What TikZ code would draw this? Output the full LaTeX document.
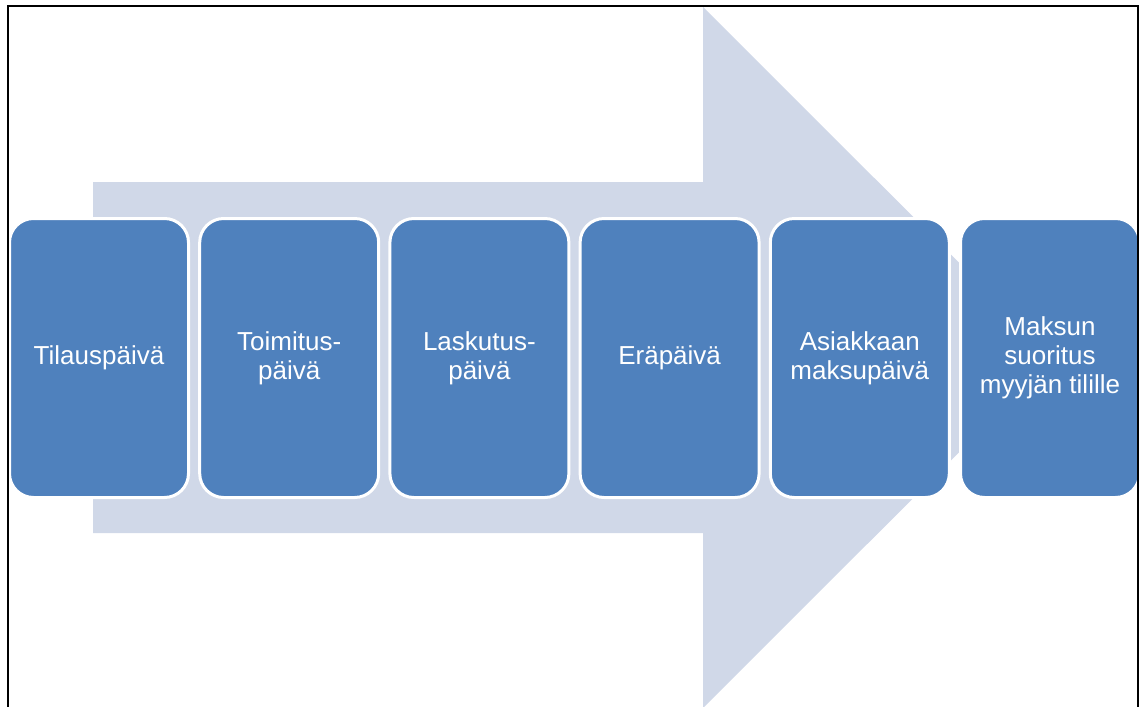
\documentclass[tikz,border=0pt]{standalone}
\usepackage{fontspec}
\setmainfont{Liberation Sans}
\definecolor{boxblue}{HTML}{4F81BD}
\definecolor{arrowgrey}{HTML}{D0D8E8}
\tikzset{
  stepbox/.style={draw=white, line width=3pt, fill=boxblue, rounded corners=24pt,
    minimum width=179pt, minimum height=279pt, inner sep=0pt,
    text=white, align=center, font=\fontsize{26}{29}\selectfont},
  frameline/.style={draw=black, line width=2pt},
  bigarrow/.style={fill=arrowgrey, draw=none}
}
\begin{document}
\begin{tikzpicture}[x=1pt, y=-1pt]
\useasboundingbox (0,0) rectangle (1141,707);
\clip (0,0) rectangle (1141,707);
\fill[white] (0,0) rectangle (1141,707);
% big background arrow
\path[bigarrow] (93,182) -- (703,182) -- (703,7) -- (1054,357.5) -- (703,708) -- (703,533) -- (93,533) -- cycle;
% boxes
\node[stepbox] (b1) at (99,358) {Tilauspäivä};
\node[stepbox] (b2) at (289.2,358) {Toimitus-\\päivä};
\node[stepbox] (b3) at (479.4,358) {Laskutus-\\päivä};
\node[stepbox] (b4) at (669.6,358) {Eräpäivä};
\node[stepbox] (b5) at (859.8,358) {Asiakkaan\\maksupäivä};
\node[stepbox] (b6) at (1050,358) {Maksun\\suoritus\\myyjän tilille};
% frame
\draw[frameline] (8,720) -- (8,5.5) -- (1138,5.5) -- (1138,720);
\end{tikzpicture}
\end{document}
